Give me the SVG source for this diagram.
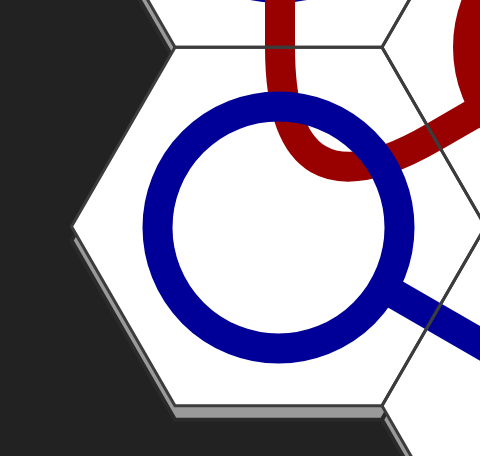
<svg xmlns="http://www.w3.org/2000/svg" width="480" height="456" viewBox="0 0 480 456">
  <style>
    .shadow { fill: #9a9a9a; stroke: #2a2a2a; stroke-width: 4; }
    .face { fill: #ffffff; stroke: none; }
    .edge { fill: none; stroke: #3c3c3c; stroke-width: 3; stroke-linejoin: miter; }
    .blue { fill: none; stroke: #000099; stroke-width: 30; }
    .red { fill: none; stroke: #990000; stroke-width: 30; }
  </style>
  <defs>
    <polygon id="hex" points="-207,0 -103.5,-179.3 103.5,-179.3 207,0 103.5,179.3 -103.5,179.3"/>
  </defs>
  <rect x="0" y="0" width="480" height="456" fill="#222222"/>
  <g id="shadows">
    <use href="#hex" class="shadow" transform="translate(278.5,-118.1)"/>
    <use href="#hex" class="shadow" transform="translate(278.5,240.5)"/>
    <use href="#hex" class="shadow" transform="translate(589,61.2)"/>
    <use href="#hex" class="shadow" transform="translate(589,419.8)"/>
  </g>
  <g id="faces">
    <use href="#hex" class="face" transform="translate(278.5,-132.1)"/>
    <use href="#hex" class="face" transform="translate(278.5,226.5)"/>
    <use href="#hex" class="face" transform="translate(589,47.2)"/>
    <use href="#hex" class="face" transform="translate(589,405.8)"/>
  </g>
  <g id="tile-top">
    <circle class="blue" cx="278.5" cy="-133" r="121"/>
  </g>
  <g id="connectors">
    <path id="red-path" class="red" d="M 280 -10 L 280 47.2 Q 280 226.5 433.75 136.85 L 484.5 107.5"/>
    <line id="blue-line" class="blue" x1="383.3" y1="287.5" x2="500" y2="354.9"/>
  </g>
  <g id="tile-upper-right">
    <circle class="red" cx="589" cy="47.2" r="121"/>
  </g>
  <g id="tile-center">
    <circle class="blue" cx="278.5" cy="227.5" r="121"/>
  </g>
  <g id="edges">
    <use href="#hex" class="edge" transform="translate(278.5,-132.1)"/>
    <use href="#hex" class="edge" transform="translate(278.5,226.5)"/>
    <use href="#hex" class="edge" transform="translate(589,47.2)"/>
    <use href="#hex" class="edge" transform="translate(589,405.8)"/>
  </g>
</svg>
